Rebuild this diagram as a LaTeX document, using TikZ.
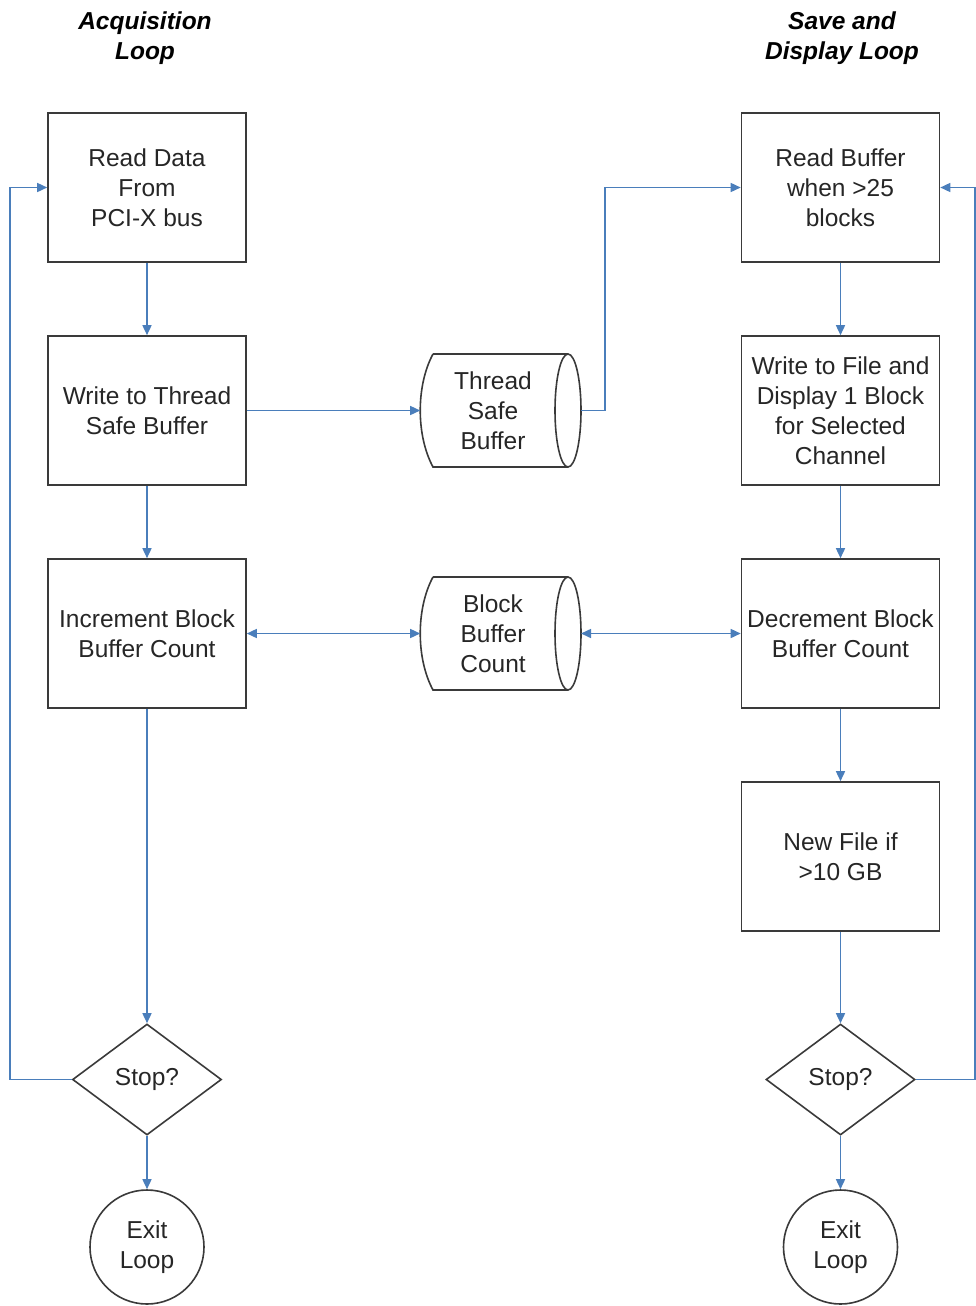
\documentclass[tikz,border=0pt]{standalone}
\usepackage{fontspec}
\setmainfont{Liberation Sans}
\usetikzlibrary{arrows.meta,shapes.geometric}
\definecolor{edgegray}{HTML}{3A3A3A}
\definecolor{flowblue}{HTML}{4A7EBB}
\definecolor{inkgray}{HTML}{262626}
\tikzset{
  lbl/.style={font=\fontsize{24.5}{30}\selectfont, text=inkgray, align=center},
  heading/.style={lbl, font=\fontsize{24.5}{30}\selectfont\bfseries\itshape, text=black},
  stepbox/.style={lbl, draw=edgegray, line width=1.6pt, rectangle,
    minimum width=198pt, minimum height=149pt, inner sep=0pt},
  decide/.style={lbl, draw=edgegray, line width=1.6pt, diamond,
    minimum width=149pt, minimum height=111pt, inner sep=0pt},
  terminal/.style={lbl, draw=edgegray, line width=1.6pt, circle,
    minimum size=114pt, inner sep=0pt},
  storetext/.style={lbl, inner sep=0pt},
  outline/.style={draw=edgegray, line width=1.6pt},
  flow/.style={draw=flowblue, line width=1.5pt,
    -{Triangle[length=10pt,width=9pt]}},
  bothflow/.style={flow, {Triangle[length=10pt,width=9pt]}-{Triangle[length=10pt,width=9pt]}}
}
% horizontal data store: concave left end, full ellipse on the right
\newcommand\storeoutline[2]{%
  \begin{scope}[shift={(#2)}]
    \path[outline] (-60,-56.5) .. controls (-77,-25) and (-77,25) .. (-60,56.5)
      -- (75,56.5) (-60,-56.5) -- (75,-56.5);
    \path[outline] (75,0) ellipse (13 and 56.5);
    \coordinate (#1-w) at (-72.8,0);
    \coordinate (#1-e) at (88,0);
  \end{scope}}
\begin{document}
\begin{tikzpicture}[x=1pt,y=-1pt]
  \useasboundingbox (0,0) rectangle (976,1306);

  % column headings
  \node[heading] (hacq) at (145,38) {Acquisition\\Loop};
  \node[heading] (hsave) at (842,38) {Save and\\Display Loop};

  % acquisition loop
  \node[stepbox] (a1) at (147,187.5) {Read Data\\From\\PCI-X bus};
  \node[stepbox] (a2) at (147,410.5) {Write to Thread\\Safe Buffer};
  \node[stepbox] (a3) at (147,633.5) {Increment Block\\Buffer Count};
  \node[decide] (astop) at (147,1079.5) {Stop?};
  \node[terminal] (aexit) at (147,1247) {Exit\\Loop};

  % save and display loop
  \node[stepbox] (s1) at (840.5,187.5) {Read Buffer\\when >25\\blocks};
  \node[stepbox] (s2) at (840.5,410.5) {Write to File and\\Display 1 Block\\for Selected\\Channel};
  \node[stepbox] (s3) at (840.5,633.5) {Decrement Block\\Buffer Count};
  \node[stepbox] (s4) at (840.5,856.5) {New File if\\>10 GB};
  \node[decide] (sstop) at (840.5,1079.5) {Stop?};
  \node[terminal] (sexit) at (840.5,1247) {Exit\\Loop};

  % shared stores
  \node[storetext] (tsb) at (493,410.5) {Thread\\Safe\\Buffer};
  \storeoutline{tsb}{493,410.5}
  \node[storetext] (bbc) at (493,633.5) {Block\\Buffer\\Count};
  \storeoutline{bbc}{493,633.5}

  % loop-back coordinates
  \coordinate (lcorner) at (10,1079.5);
  \coordinate (rcorner) at (975,1079.5);
  \coordinate (tjog) at (605,410.5);

  % acquisition flow
  \draw[flow] (a1) -- (a2);
  \draw[flow] (a2) -- (a3);
  \draw[flow] (a3) -- (astop);
  \draw[flow] (astop) -- (aexit);
  \draw[flow] (astop.west) -- (lcorner) |- (a1.west);

  % save and display flow
  \draw[flow] (s1) -- (s2);
  \draw[flow] (s2) -- (s3);
  \draw[flow] (s3) -- (s4);
  \draw[flow] (s4) -- (sstop);
  \draw[flow] (sstop) -- (sexit);
  \draw[flow] (sstop.east) -- (rcorner) |- (s1.east);

  % data exchange through the stores
  \draw[flow] (a2.east) -- (tsb-w);
  \draw[flow] (tsb-e) -- (tjog) |- (s1.west);
  \draw[bothflow] (a3.east) -- (bbc-w);
  \draw[bothflow] (bbc-e) -- (s3.west);
\end{tikzpicture}
\end{document}
